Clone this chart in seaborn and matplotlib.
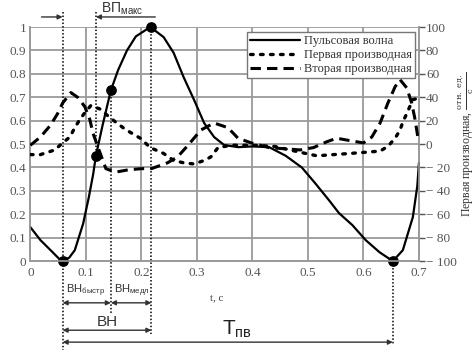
import numpy as np
import pandas as pd
import matplotlib
matplotlib.use("Agg")
import matplotlib.pyplot as plt
from matplotlib.lines import Line2D
import seaborn as sns

# ---- data ----
t_pulse = [0, 0.018, 0.035, 0.056, 0.07, 0.08, 0.095, 0.105, 0.113, 0.118, 0.13, 0.145, 0.158,
           0.174, 0.19, 0.216, 0.24, 0.258, 0.276, 0.295, 0.313, 0.331, 0.349, 0.374, 0.40,
           0.43, 0.46, 0.489, 0.513, 0.538, 0.556, 0.58, 0.604, 0.629, 0.653, 0.671, 0.689,
           0.697, 0.70]
pulse = [0.145, 0.09, 0.05, 0.0, 0.015, 0.047, 0.16, 0.27, 0.37, 0.45, 0.58, 0.73, 0.816,
         0.90, 0.96, 1.0, 0.957, 0.89, 0.786, 0.688, 0.59, 0.53, 0.496, 0.487, 0.49,
         0.487, 0.45, 0.40, 0.333, 0.26, 0.205, 0.154, 0.09, 0.038, 0.0, 0.047, 0.188,
         0.32, 0.42]

t_d1 = [0, 0.018, 0.044, 0.058, 0.071, 0.08, 0.089, 0.10, 0.109, 0.125, 0.14, 0.153, 0.167,
        0.18, 0.198, 0.216, 0.24, 0.258, 0.276, 0.295, 0.313, 0.325, 0.338, 0.362, 0.40,
        0.44, 0.486, 0.516, 0.576, 0.63, 0.644, 0.657, 0.666, 0.671, 0.678, 0.689, 0.698]
d1 = [-9, -9, -5, 1, 6, 14, 21, 28, 33, 30, 24, 19, 14, 10, 5, -3, -8, -14, -16, -17, -14,
      -11, -3, -1, -1, -2, -7, -10, -8, -6, -2, 5, 12, 19, 26, 38, 39]

t_d2 = [0, 0.018, 0.036, 0.049, 0.058, 0.073, 0.085, 0.098, 0.107, 0.113, 0.122, 0.136, 0.153,
        0.176, 0.2, 0.218, 0.247, 0.265, 0.284, 0.307, 0.331, 0.356, 0.374, 0.398, 0.43,
        0.486, 0.51, 0.534, 0.552, 0.575, 0.6, 0.615, 0.63, 0.644, 0.657, 0.666, 0.678,
        0.687, 0.693, 0.698]
d2 = [-1, 6, 16, 26, 35, 44, 40, 32, 21, 9, -3, -21, -24, -22, -21, -21, -16, -11, -1, 12,
      18, 14, 5, 1, -3, -5, -3, 2, 5, 3, 1, 6, 18, 35, 49, 55, 48, 35, 21, 6]

t_events = [0.058, 0.118, 0.145, 0.218, 0.653]
v_events = [0.0, 0.45, 0.73, 1.0, 0.0]

x_ticks = [0, 0.1, 0.2, 0.3, 0.4, 0.5, 0.6, 0.7]
x_ticklabels = ["0", "0.1", "0.2", "0.3", "0.4", "0.5", "0.6", "0.7"]
y_ticks = [0, 0.1, 0.2, 0.3, 0.4, 0.5, 0.6, 0.7, 0.8, 0.9, 1]
y_ticklabels = ["0", "0.1", "0.2", "0.3", "0.4", "0.5", "0.6", "0.7", "0.8", "0.9", "1"]
r_ticks = [-100, -80, -60, -40, -20, 0, 20, 40, 60, 80, 100]
r_ticklabels = ["− 100", "− 80", "− 60", "− 40", "− 20", "0", "20", "40", "60", "80", "100"]

legend_labels = ["Пульсовая волна", "Первая производная", "Вторая производная"]

sns.set_theme(style="white")
plt.rcParams["font.family"] = ["Liberation Serif", "DejaVu Serif"]
plt.rcParams["mathtext.fontset"] = "dejavuserif"

fig = plt.figure(figsize=(4.75, 3.51), dpi=100)
ax = fig.add_axes([0.064, 0.256, 0.818, 0.667])
ax2 = ax.twinx()

grid_c = "#9a9a9a"
tick_c = "#555555"

df_p = pd.DataFrame({"t": t_pulse, "v": pulse})
df_1 = pd.DataFrame({"t": t_d1, "v": d1})
df_2 = pd.DataFrame({"t": t_d2, "v": d2})

dot_ls = (0, (0.8, 2.2))
dash_ls = (0, (3.4, 2.0))

sns.lineplot(data=df_p, x="t", y="v", ax=ax, color="black", lw=1.6, legend=False, zorder=5)
sns.lineplot(data=df_1, x="t", y="v", ax=ax2, color="black", lw=2.4,
             linestyle=dot_ls, legend=False, zorder=4)
sns.lineplot(data=df_2, x="t", y="v", ax=ax2, color="black", lw=2.2,
             linestyle=dash_ls, legend=False, zorder=4)
ax2.get_lines()[0].set_dash_capstyle("round")
ax.get_lines()[0].set_clip_on(False)

ax.set_xlim(0, 0.7)
ax.set_ylim(0, 1)
ax2.set_ylim(-100, 100)
ax.set_xticks(x_ticks)
ax.set_xticklabels(x_ticklabels)
ax.set_yticks(y_ticks)
ax.set_yticklabels(y_ticklabels)
ax2.set_yticks(r_ticks)
ax2.set_yticklabels(r_ticklabels)

ax.grid(True, color=grid_c, lw=1.3)
ax.set_axisbelow(True)
for a in (ax, ax2):
    for s in a.spines.values():
        s.set_color(grid_c)
        s.set_linewidth(1.2)
    a.spines["top"].set_visible(False)
ax.tick_params(axis="both", colors=tick_c, labelsize=9.5, length=0, pad=3)
ax.tick_params(axis="x", pad=4)
ax2.tick_params(axis="y", colors=tick_c, labelsize=9.5, length=4, width=1, pad=1, direction="out")
ax.set_xlabel("")
ax.set_ylabel("")
ax2.set_xlabel("")
ax2.set_ylabel("Первая производная, $\\frac{\\mathrm{отн.\\ ед.}}{\\mathrm{с}}$",
               fontsize=8.5, color="#333333", labelpad=0)

# markers
ax.scatter(t_events, v_events, s=45, color="black", zorder=10, clip_on=False)

# vertical dotted guide lines
vkw = dict(color="black", lw=1.1, linestyle=(0, (1, 1.3)), clip_on=False, zorder=6)
ax.plot([t_events[0], t_events[0]], [1.064, -0.38], **vkw)
ax.plot([t_events[1], t_events[1]], [1.064, v_events[1]], **vkw)
ax.plot([t_events[2], t_events[2]], [v_events[2], -0.22], **vkw)
ax.plot([t_events[3], t_events[3]], [v_events[3], -0.31], **vkw)
ax.plot([t_events[4], t_events[4]], [v_events[4], -0.36], **vkw)

# arrows
akw = dict(arrowstyle="<|-|>", color="#333333", lw=1.0, mutation_scale=7, shrinkA=0, shrinkB=0)
def darrow(x0, x1, y):
    ax.annotate("", xy=(x1, y), xytext=(x0, y), xycoords="data", textcoords="data",
                arrowprops=akw, annotation_clip=False)

darrow(t_events[0], t_events[2], -0.178)
darrow(t_events[2], t_events[3], -0.178)
darrow(t_events[0], t_events[3], -0.295)
darrow(t_events[0], t_events[4], -0.346)

okw = dict(arrowstyle="-|>", color="#333333", lw=1.0, mutation_scale=7, shrinkA=0, shrinkB=0)
ax.annotate("", xy=(t_events[0], 1.043), xytext=(0.02, 1.043), arrowprops=okw,
            annotation_clip=False)
ax.annotate("", xy=(t_events[1], 1.043), xytext=(0.225, 1.043), arrowprops=okw,
            annotation_clip=False)

sans = ["Liberation Sans", "DejaVu Sans"]
ax.text(0.166, 1.077, "ВП$_{\\mathregular{макс}}$", fontsize=10, family=sans, ha="center",
        va="center", color="#333333", clip_on=False)
ax.text(0.1, -0.125, "ВН$_{\\mathregular{быстр}}$", fontsize=8, family=sans, ha="center",
        va="center", color="#333333", clip_on=False)
ax.text(0.183, -0.125, "ВН$_{\\mathregular{медл}}$", fontsize=8, family=sans, ha="center",
        va="center", color="#333333", clip_on=False)
ax.text(0.138, -0.262, "ВН", fontsize=11, family=sans, ha="center", va="center",
        color="#333333", clip_on=False)
ax.text(0.372, -0.29, "T$_{\\mathregular{пв}}$", fontsize=15, family=sans, ha="center",
        va="center", color="#222222", clip_on=False)
ax.text(0.335, -0.158, "t, с", fontsize=8, ha="center", va="center", color="#444444",
        clip_on=False)

# legend
handles = [Line2D([], [], color="black", lw=1.6),
           Line2D([], [], color="black", lw=2.4, linestyle=dot_ls, dash_capstyle="round"),
           Line2D([], [], color="black", lw=2.2, linestyle=dash_ls)]
leg = ax2.legend(handles, legend_labels, loc="upper right", bbox_to_anchor=(0.99, 0.978),
                 fontsize=9, frameon=True, fancybox=False, framealpha=1, edgecolor="#777777",
                 borderpad=0.25, labelspacing=0.15, handlelength=4.0, handletextpad=0.3,
                 borderaxespad=0)
leg.get_frame().set_linewidth(1.0)
for txt in leg.get_texts():
    txt.set_color("#333333")

fig.savefig("out.png", dpi=100)
